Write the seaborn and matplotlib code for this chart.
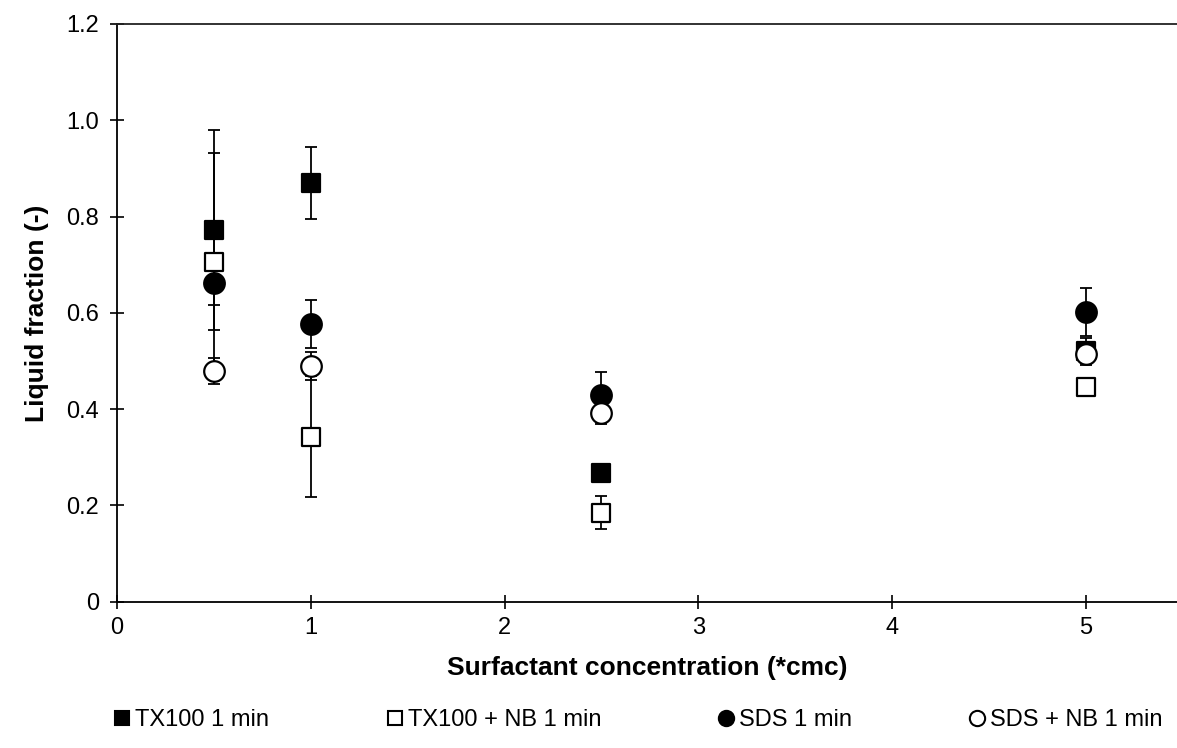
import numpy as np
import pandas as pd
import seaborn as sns
import matplotlib
matplotlib.use("Agg")
import matplotlib.pyplot as plt
from matplotlib.lines import Line2D

# data
conc = [0.5, 1, 2.5, 5]
series_names = ["TX100 1 min", "TX100 + NB 1 min", "SDS 1 min", "SDS + NB 1 min"]
tx100 = [0.772, 0.869, 0.268, 0.520]
tx100_err = [0.207, 0.075, 0.0, 0.028]
tx100_nb = [0.705, 0.343, 0.185, 0.447]
tx100_nb_err = [0.227, 0.125, 0.034, 0.0]
sds = [0.662, 0.576, 0.430, 0.602]
sds_err = [0.046, 0.050, 0.047, 0.050]
sds_nb = [0.480, 0.489, 0.393, 0.515]
sds_nb_err = [0.027, 0.029, 0.023, 0.020]

sns.set_style("white")
plt.rcParams['font.family'] = ['Liberation Sans', 'DejaVu Sans']
plt.rcParams['text.color'] = 'black'
plt.rcParams['axes.labelcolor'] = 'black'

fig = plt.figure(figsize=(11.77, 7.48), dpi=100)
ax = fig.add_axes([0.0994, 0.1955, 0.9006, 0.7725])

series = [
    (tx100, tx100_err, "s", "black"),
    (tx100_nb, tx100_nb_err, "s", "white"),
    (sds, sds_err, "o", "black"),
    (sds_nb, sds_nb_err, "o", "white"),
]

# error bars first, markers on top
for vals, errs, mk, fc in series:
    ax.errorbar(conc, vals, yerr=errs, fmt="none", ecolor="black",
                elinewidth=1.3, capsize=4, capthick=1.3, zorder=2)

for (vals, errs, mk, fc), name in zip(series, series_names):
    df = pd.DataFrame({"conc": conc, "frac": vals})
    sns.scatterplot(data=df, x="conc", y="frac", marker=mk, s=220 if mk == "o" else 170,
                    facecolor=fc, edgecolor="black", linewidth=1.6, ax=ax, zorder=3,
                    legend=False)

ax.set_xlim(0, 5.47)
ax.set_ylim(0, 1.2)
ax.set_xticks([0, 1, 2, 3, 4, 5])
ax.set_yticks([0, 0.2, 0.4, 0.6, 0.8, 1.0, 1.2])
ax.set_yticklabels(["0", "0.2", "0.4", "0.6", "0.8", "1.0", "1.2"])
ax.tick_params(axis="both", direction="inout", length=10, width=1.2,
               labelsize=17, colors="black", bottom=True, left=True)
ax.tick_params(axis="x", pad=6)
ax.tick_params(axis="y", pad=8)

for side in ["left", "bottom", "top"]:
    ax.spines[side].set_visible(True)
    ax.spines[side].set_color("black")
    ax.spines[side].set_linewidth(1.3)
ax.spines["right"].set_visible(False)
ax.spines["top"].set_color("#222222")

ax.set_xlabel("Surfactant concentration (*cmc)", fontsize=19, fontweight="bold", labelpad=12)
ax.set_ylabel("Liquid fraction (-)", fontsize=19, fontweight="bold", labelpad=12)

handles = [Line2D([], [], marker=mk, linestyle="none", markersize=10 if mk == "s" else 11,
                  markerfacecolor=fc, markeredgecolor="black", markeredgewidth=1.5)
           for _, _, mk, fc in series]
fig.legend(handles, series_names, loc="center", bbox_to_anchor=(0.541, 0.037), ncol=4,
           frameon=False, fontsize=17, handletextpad=0.05, handlelength=1.0,
           columnspacing=4.8)

fig.savefig("out.png", dpi=100)
